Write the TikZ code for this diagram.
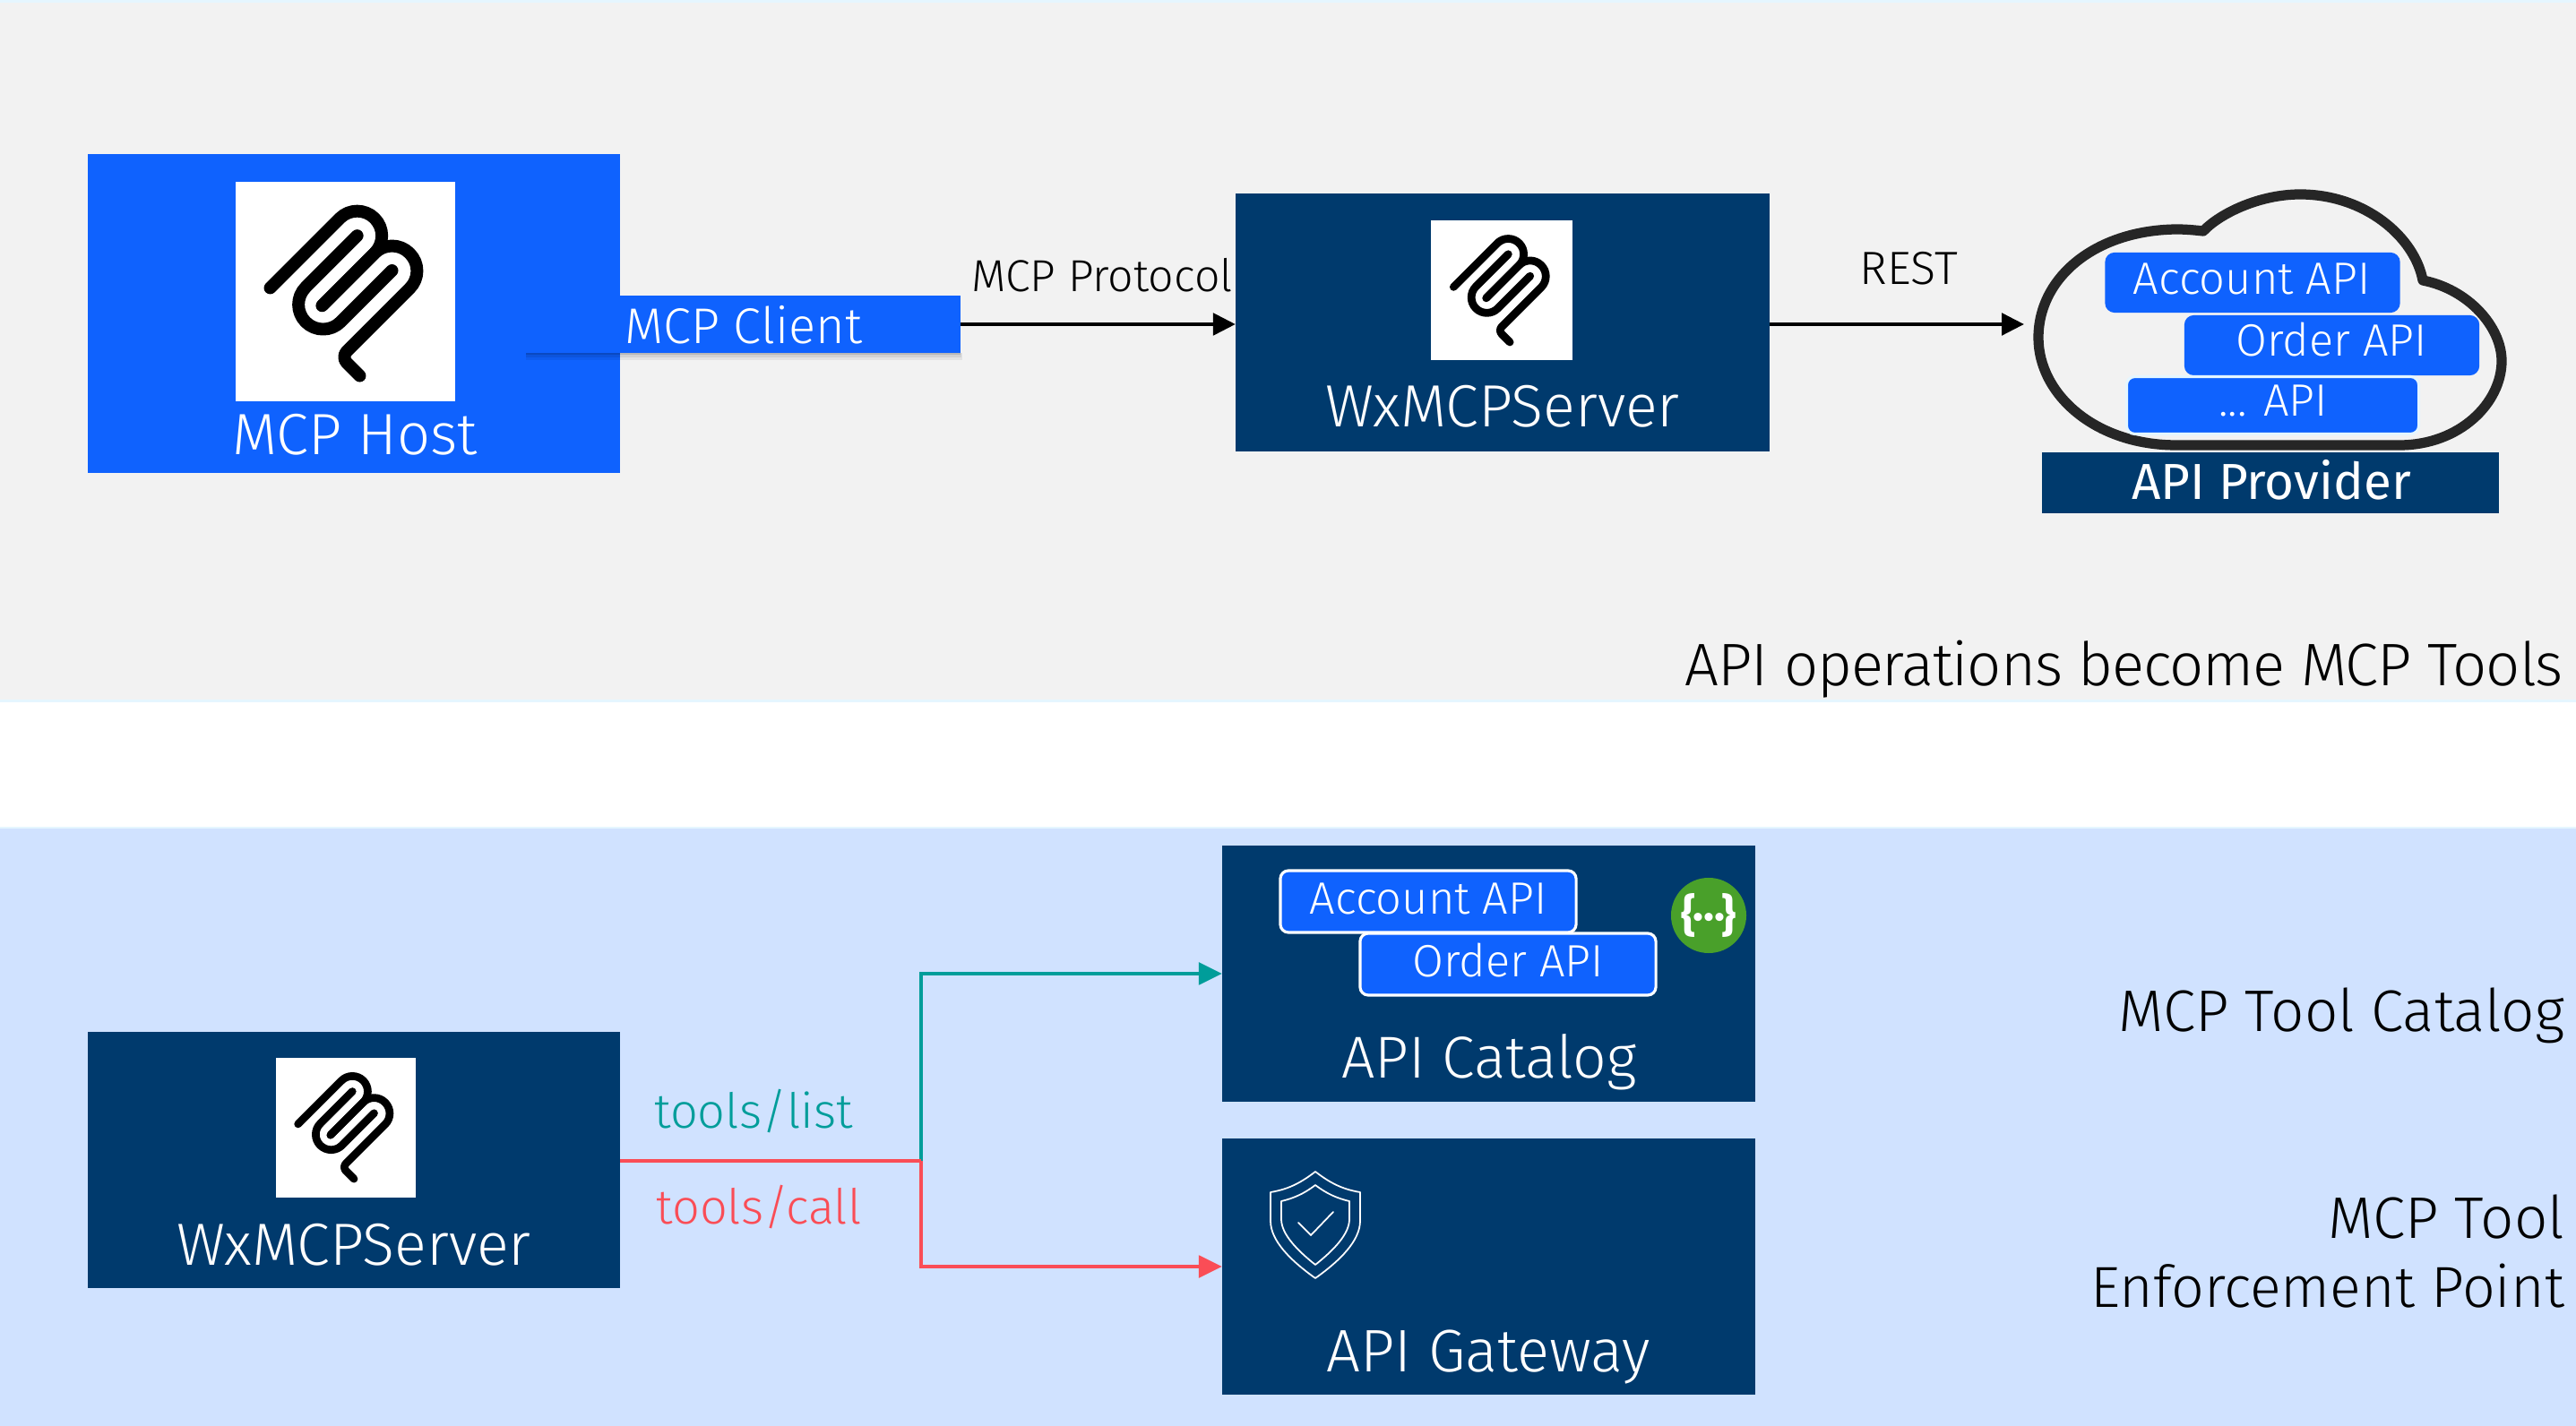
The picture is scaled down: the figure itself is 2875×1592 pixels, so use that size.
\documentclass[tikz,border=0pt]{standalone}
\usepackage{fontspec}
\setmainfont{Fira Sans}[UprightFont=* Light, BoldFont=*]
\newfontfamily\regfont{Fira Sans}
\usetikzlibrary{arrows.meta,calc}
\definecolor{ibmblue}{HTML}{0F62FE}
\definecolor{ibmnavy}{HTML}{003A6D}
\definecolor{panelgray}{HTML}{F2F2F2}
\definecolor{panelblue}{HTML}{D0E2FF}
\definecolor{stripc}{HTML}{E5F6FF}
\definecolor{tealc}{HTML}{009D9A}
\definecolor{redc}{HTML}{FA4D56}
\definecolor{swaggreen}{HTML}{49A02A}
\definecolor{cloudc}{HTML}{262626}
\newlength{\pxu}\setlength{\pxu}{0.2845pt}
\newcommand{\pxfont}[1]{\pgfmathsetmacro\fsz{#1*0.2845}\fontsize{\fsz}{\fsz}\selectfont}
\tikzset{
  x=0.01cm, y=-0.01cm,
  block/.style={fill=#1, draw=none, inner sep=0pt, outer sep=0pt},
  logobox/.style={fill=white, draw=none, inner sep=0pt, outer sep=0pt},
  chip/.style={fill=ibmblue, draw=#1, line width=0.9pt, rounded corners=2.6pt, inner sep=0pt, outer sep=0pt, minimum width=326\pxu, minimum height=64\pxu},
  txt/.style={inner sep=0pt, outer sep=0pt, anchor=base, font=\pxfont{#1}},
  blackarrow/.style={draw=black, line width=1.3pt, -{Triangle[length=7.1pt,width=6.9pt]}},
  teallink/.style={draw=tealc, line width=1.35pt, -{Triangle[length=7.4pt,width=6.9pt]}},
  redlink/.style={draw=redc, line width=1.35pt},
  redarrow/.style={redlink, -{Triangle[length=7.4pt,width=6.9pt]}},
}
\newcommand{\mcplogo}[3]{% x y size of white box
  \pgfmathsetmacro\lgu{#3*0.00004654}
  \pgfmathsetmacro\lgw{#3*0.0558*0.2845}
  \begin{scope}[shift={(#1,#2)}]
    \begin{scope}[x=\lgu cm, y=-\lgu cm, shift={(16.5,18.6)}, line width=\lgw pt, line cap=round, line join=round, draw=black]
    \draw (18,84.85) -- (85.88,16.97) .. controls (95.25,7.6) and (110.45,7.6) .. (119.82,16.97) .. controls (129.2,26.34) and (129.2,41.54) .. (119.82,50.91) -- (68.56,102.18);
    \draw (69.27,101.47) -- (119.82,50.91) .. controls (129.2,41.54) and (144.39,41.54) .. (153.77,50.91) -- (154.12,51.27) .. controls (163.49,60.64) and (163.49,75.83) .. (154.12,85.21) -- (92.72,146.6) .. controls (89.6,149.72) and (89.6,154.79) .. (92.72,157.91) -- (105.33,170.52);
    \draw (102.85,33.94) -- (52.65,84.15) .. controls (43.28,93.52) and (43.28,108.71) .. (52.65,118.09) .. controls (62.02,127.46) and (77.22,127.46) .. (86.59,118.09) -- (136.79,67.88);
    \end{scope}
  \end{scope}}
\begin{document}
\begin{tikzpicture}
\useasboundingbox (0,0) rectangle (2875,1592);
\fill[white] (0,0) rectangle (2875,1592);
\fill[stripc] (0,0) rectangle (2875,784);
\fill[panelgray] (0,3) rectangle (2875,781);
\fill[stripc] (0,923) rectangle (2875,1592);
\fill[panelblue] (0,925) rectangle (2875,1592);

% MCP host
\node[block=ibmblue, minimum width=594\pxu, minimum height=356\pxu] (host) at (395,350) {};
\node[logobox, minimum width=245\pxu, minimum height=245\pxu] (hostlogo) at (385.5,325.5) {};
\mcplogo{262}{203}{250}
\node[txt=65, text=white] (hosttext) at (396,508) {MCP Host};
% soft shadow under the client box
\fill[black, opacity=0.06] (587,394) rectangle (1074,402);
\fill[black, opacity=0.08] (587,394) rectangle (1073,399);
\fill[black, opacity=0.12] (587,394) rectangle (1072,396);
\node[block=ibmblue, minimum width=485\pxu, minimum height=64\pxu] (client) at (829.5,362) {};
\node[txt=56, text=white] (clienttext) at (830,384) {MCP Client};

% WxMCPServer top
\node[block=ibmnavy, minimum width=596\pxu, minimum height=288\pxu] (server) at (1677,360) {};
\node[logobox, minimum width=157\pxu, minimum height=156\pxu] (serverlogo) at (1676,324) {};
\mcplogo{1597.5}{246}{157}
\node[txt=66.5, text=white] (servertext) at (1677,477) {WxMCPServer};

% cloud
\draw[draw=cloudc, line width=3.2pt, line join=round, fill=panelgray] (2459,258)
  .. controls (2478,238) and (2522,217) .. (2567,217)
  .. controls (2640,217) and (2695,265) .. (2704,313)
  .. controls (2755,323) and (2792,365) .. (2792,403)
  .. controls (2792,450) and (2745,497) .. (2678,497)
  -- (2429,497)
  .. controls (2338,497) and (2275,440) .. (2275,377)
  .. controls (2275,310) and (2338,257) .. (2429,256)
  .. controls (2440,256) and (2450,257) .. (2459,258) -- cycle;
\coordinate (cloudin) at (2259,362);
\node[chip=ibmblue] (acct) at (2514,315.5) {};
\node[chip=ibmblue] (order) at (2602.5,385.5) {};
\node[chip=stripc] (more) at (2536.5,452.5) {};
\node[txt=50.5, text=white] (accttext) at (2513,329) {Account API};
\node[txt=50.5, text=white] (ordertext) at (2602,398) {Order API};
\node[txt=50.5, text=white] (moretext) at (2537,465) {... API};
\node[block=ibmnavy, minimum width=510\pxu, minimum height=68\pxu] (provider) at (2534,539) {};
\node[inner sep=0pt, outer sep=0pt, anchor=base, text=white, font=\regfont\pxfont{56.5}] (providertext) at (2535,558) {API Provider};

% top connectors
\draw[blackarrow] (client.east) -- (client.east -| server.west);
\draw[blackarrow] (server.east |- cloudin) -- (cloudin);
\node[txt=50] (protolabel) at (1230,326) {MCP Protocol};
\node[txt=52] (restlabel) at (2130,318) {REST};
\node[txt=67, anchor=base east, font=\pxfont{67}\addfontfeature{LetterSpace=-1.7}] (opstext) at (2861,766) {API operations become MCP Tools};

% WxMCPServer bottom
\node[block=ibmnavy, minimum width=594\pxu, minimum height=286\pxu] (wx) at (395,1295) {};
\node[logobox, minimum width=156\pxu, minimum height=156\pxu] (wxlogo) at (386,1259) {};
\mcplogo{308}{1181}{156}
\node[txt=66.5, text=white] (wxtext) at (395,1412) {WxMCPServer};

% catalog
\node[block=ibmnavy, minimum width=595\pxu, minimum height=286\pxu] (catalog) at (1661.5,1087) {};
\node[chip=white, minimum width=330\pxu, minimum height=69\pxu] (acct2) at (1594,1006.5) {};
\node[chip=white, minimum width=330\pxu, minimum height=69\pxu] (order2) at (1683,1076.5) {};
\node[txt=50.5, text=white] (acct2text) at (1594,1021) {Account API};
\node[txt=50.5, text=white] (order2text) at (1683,1091) {Order API};
\node[circle, fill=swaggreen, draw=none, inner sep=0pt, minimum size=84\pxu] (swagger) at (1907,1022) {};
\node[text=white, inner sep=0pt, font=\regfont\bfseries\pxfont{50}] (swaggertext) at (1907,1022) {\{\kern-1pt···\kern-1pt\}};
\node[txt=66, text=white] (catalogtext) at (1662,1204) {API Catalog};

% gateway
\node[block=ibmnavy, minimum width=595\pxu, minimum height=286\pxu] (gateway) at (1661.5,1414) {};
\node[txt=67, text=white] (gatewaytext) at (1661,1531) {API Gateway};
\begin{scope}[draw=white, line width=0.5pt, line join=round, line cap=round]
  \draw (1468,1308) .. controls (1450,1322) and (1436,1328) .. (1418,1331)
    -- (1418,1363) .. controls (1418,1385) and (1440,1407) .. (1468,1427)
    .. controls (1496,1407) and (1518,1385) .. (1518,1363) -- (1518,1331)
    .. controls (1500,1328) and (1486,1322) .. (1468,1308) -- cycle;
  \draw (1468,1323) .. controls (1455,1333) and (1443,1338) .. (1430,1341)
    -- (1430,1361) .. controls (1430,1378) and (1448,1396) .. (1468,1412)
    .. controls (1488,1396) and (1506,1378) .. (1506,1361) -- (1506,1341)
    .. controls (1493,1338) and (1481,1333) .. (1468,1323) -- cycle;
  \draw (1449,1365) -- (1463,1379) -- (1488,1353);
\end{scope}

% bottom connectors
\coordinate (junction) at (1028,1296);
\draw[teallink] (junction) |- (catalog.west);
\draw[redarrow] (junction) |- (gateway.west);
\draw[redlink] (wx.east |- junction) -- (junction);
\node[txt=54, text=tealc] (listlabel) at (841,1259) {tools/list};
\node[txt=54, text=redc] (calllabel) at (847,1366) {tools/call};

% right captions
\node[txt=65.5, anchor=base east] (cap1) at (2862,1152) {MCP Tool Catalog};
\node[txt=65.5, anchor=base east] (cap2) at (2862,1382) {MCP Tool};
\node[txt=64.5, anchor=base east] (cap3) at (2862,1459) {Enforcement Point};
\end{tikzpicture}
\end{document}
